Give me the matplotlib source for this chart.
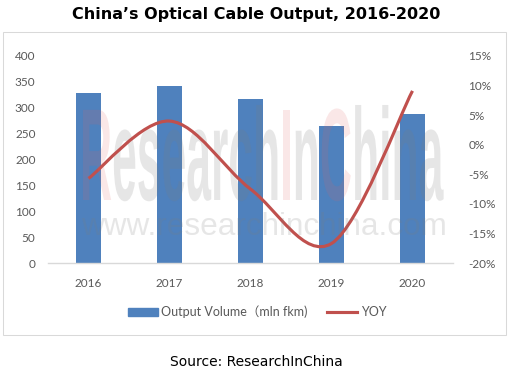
import numpy as np
import matplotlib
matplotlib.use("Agg")
import matplotlib.pyplot as plt
import matplotlib.patheffects as pe
from matplotlib.path import Path
from matplotlib.patches import PathPatch, Rectangle, Patch
from matplotlib.lines import Line2D
from matplotlib.transforms import Affine2D

plt.rcParams['font.family'] = ['Lato', 'Noto Sans CJK SC', 'DejaVu Sans']

years = ["2016", "2017", "2018", "2019", "2020"]
output = [328, 342, 317, 265, 288]        # mln fkm
yoy = [-5.7, 4.0, -7.5, -16.7, 9.1]       # %
left_ticks = [0, 50, 100, 150, 200, 250, 300, 350, 400]
right_ticks = [-20, -15, -10, -5, 0, 5, 10, 15]

BLUE = "#4F81BD"
RED = "#C0504D"
GREY = "#595959"
W, H = 515, 375


def px(x, y):
    # pixel position (from top-left) -> figure fraction
    return x / W, 1 - y / H


def smooth_path(xs, ys):
    # Excel-like smoothed line (Catmull-Rom as cubic bezier)
    pts = np.column_stack([xs, ys]).astype(float)
    p = np.vstack([pts[0], pts, pts[-1]])
    verts = [pts[0]]
    codes = [Path.MOVETO]
    for i in range(1, len(p) - 2):
        c1 = p[i] + (p[i + 1] - p[i - 1]) / 6
        c2 = p[i + 1] - (p[i + 2] - p[i]) / 6
        verts += [c1, c2, p[i + 1]]
        codes += [Path.CURVE4] * 3
    return Path(verts, codes)


class Stretch(pe.AbstractPathEffect):
    # stretch text vertically about a baseline (display coords)
    def __init__(self, sy, y0):
        super().__init__()
        self.sy = sy
        self.y0 = y0

    def draw_path(self, renderer, gc, tpath, affine, rgbFace=None):
        t = affine + Affine2D().translate(0, -self.y0).scale(1, self.sy).translate(0, self.y0)
        renderer.draw_path(gc, tpath, t, rgbFace)


fig = plt.figure(figsize=(W / 100, H / 100), dpi=100)
ax = fig.add_axes([48 / W, (H - 263) / H, (453 - 48) / W, (263 - 56) / H])

x = np.arange(len(years))
ax.bar(x, output, width=0.31, color=BLUE, zorder=2)
ax.set_xlim(-0.5, len(years) - 0.5)
ax.set_ylim(0, 400)
ax.set_yticks(left_ticks)
ax.set_xticks(x)
ax.set_xticklabels(years)
for s in ["top", "left", "right"]:
    ax.spines[s].set_visible(False)
ax.spines["bottom"].set_color("#D9D9D9")
ax.spines["bottom"].set_linewidth(1)
ax.tick_params(axis="y", length=0, pad=9, labelsize=8.5, labelcolor=GREY)
ax.tick_params(axis="x", length=0, pad=11, labelsize=8.5, labelcolor=GREY)

# watermark
wm_base = 200
GR, PK = ("#7D7D7D", 0.19), ("#E06060", 0.15)
wm_parts = [("R", PK), ("esearch", GR), ("I", PK), ("n", GR), ("C", PK), ("hina", GR)]
eff = [Stretch(2.95, H - wm_base)]
prev = None
for txt, (col, a) in wm_parts:
    if prev is None:
        prev = fig.text(80 / W, 1 - wm_base / H, txt, fontsize=32, fontweight="bold",
                        family="Liberation Sans", color=col, alpha=a, ha="left",
                        va="baseline", path_effects=eff, zorder=3)
    else:
        prev = ax.annotate(txt, xy=(1, 0), xycoords=prev, va="bottom", ha="left",
                           fontsize=32, fontweight="bold", family="Liberation Sans",
                           color=col, alpha=a, path_effects=eff, zorder=3)
fig.text(*px(264, 235), "www.researchinchina.com", fontsize=22.7, family="Liberation Sans",
         color="#7D7D7D", alpha=0.19, ha="center", va="baseline", zorder=3)

ax2 = ax.twinx()
ax2.set_ylim(-20, 15)
ax2.set_yticks(right_ticks)
ax2.set_yticklabels([f"{v}%" for v in right_ticks])
for s in ax2.spines.values():
    s.set_visible(False)
ax2.tick_params(axis="y", length=0, pad=11, labelsize=8.5, labelcolor=GREY)
ax2.add_patch(PathPatch(smooth_path(x, yoy), facecolor="none", edgecolor=RED, lw=2.25))

# title, box, legend, source
fig.text(*px(256, 15), "China\u2019s Optical Cable Output, 2016-2020", family="DejaVu Sans",
         fontweight="bold", fontsize=11.5, ha="center", va="center")
fig.add_artist(Rectangle(px(3, 335), 503 / W, 303 / H, transform=fig.transFigure,
                         fill=False, edgecolor="#D9D9D9", lw=0.75))
handles = [Patch(color=BLUE), Line2D([], [], color=RED, lw=2.25)]
fig.legend(handles, ["Output Volume\uff08mln fkm)", "YOY"], loc="center",
           bbox_to_anchor=px(257, 312), ncol=2, frameon=False, fontsize=9,
           labelcolor=GREY, handlelength=2.4, handleheight=0.56, handletextpad=0.25,
           columnspacing=1.6)
fig.text(*px(256, 362), "Source: ResearchInChina", family="DejaVu Sans", fontsize=10,
         ha="center", va="center")

fig.savefig("out.png", dpi=100)
